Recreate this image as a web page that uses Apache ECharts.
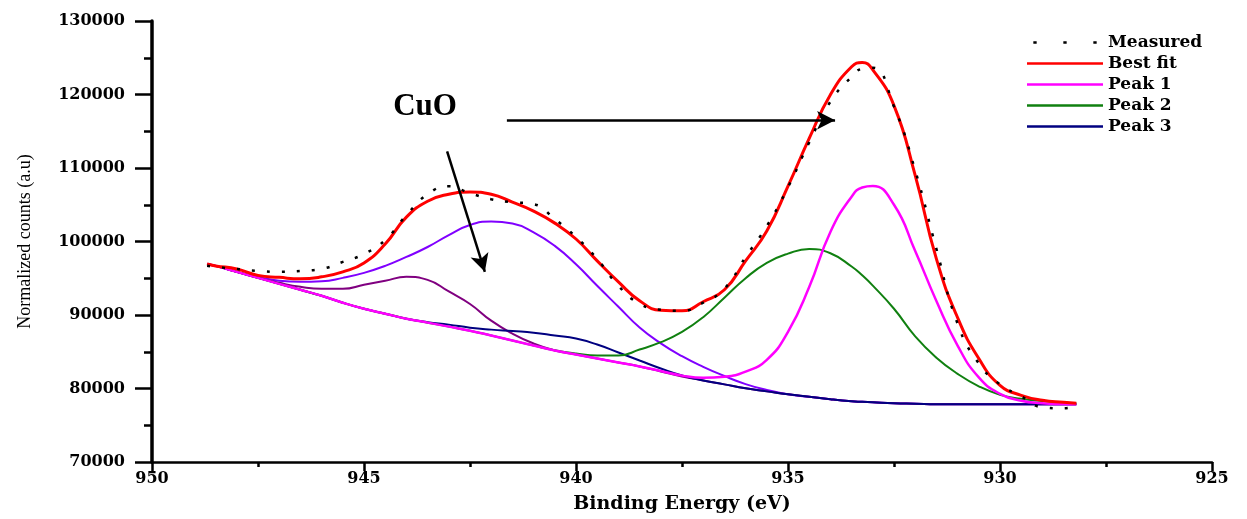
<!DOCTYPE html>
<html>
<head>
<meta charset="utf-8">
<script src="https://cdn.jsdelivr.net/npm/echarts@6/dist/echarts.min.js"></script>
<style>
  html, body { margin: 0; padding: 0; background: #ffffff; }
  #chart { width: 1247px; height: 519px; }
</style>
</head>
<body>
<div id="chart"></div>
<script>
// Binding energies (eV) at which the curves were read
const energy = [948.7, 948.5, 948, 947.5, 947, 946.5, 946, 945.5, 945, 944.5, 944, 943.5, 943, 942.5, 942, 941.5, 941, 940.5, 940, 939.5, 939, 938.5, 938, 937.5, 937, 936.5, 936, 935.5, 935, 934.5, 934, 933.5, 933.25, 933, 932.5, 932, 931.5, 931, 930.5, 930, 929.5, 929, 928.5, 928.2];

const measured = [96700, 96540, 96270, 96000, 95870, 96000, 96270, 97220, 98300, 100200, 103590, 106430, 107510, 106570, 105750, 105350, 105080, 103050, 100610, 97630, 93970, 91530, 90720, 90580, 91670, 93570, 97900, 102100, 107380, 113480, 119030, 122410, 123500, 123630, 118350, 109680, 99000, 88820, 83410, 80560, 78940, 77450, 77310, 77580];

const bestFit = [96950, 96680, 96270, 95390, 95120, 94920, 95190, 95870, 97090, 99660, 103320, 105480, 106430, 106740, 106430, 105350, 104130, 102500, 100340, 97360, 94510, 91940, 90650, 90580, 91800, 93430, 97360, 101420, 107520, 114020, 119980, 123770, 124350, 123360, 118490, 109000, 97630, 89640, 84080, 80430, 79070, 78390, 78120, 77990];

const peak1 = [96950, 96680, 95870, 95050, 94240, 93430, 92620, 91670, 90850, 90180, 89500, 88960, 88420, 87870, 87200, 86520, 85840, 85170, 84620, 84080, 83540, 83000, 82370, 81750, 81450, 81600, 82300, 83900, 87700, 93800, 101300, 106100, 107350, 107550, 105000, 98710, 91900, 85840, 81510, 79280, 78330, 77990, 77880, 77850];

const peak2 = [96950, 96680, 95870, 95050, 94240, 93430, 92620, 91670, 90850, 90180, 89500, 88960, 88420, 87870, 87200, 86520, 85840, 85200, 84760, 84490, 84490, 85300, 86300, 87700, 89700, 92350, 95000, 97100, 98350, 98980, 98400, 96600, 95400, 94000, 90850, 87100, 84200, 82000, 80300, 79150, 78600, 78300, 78080, 77990];

const peak3 = [96950, 96680, 95870, 95050, 94240, 93430, 92620, 91670, 90850, 90180, 89500, 89030, 88690, 88280, 88010, 87810, 87600, 87200, 86790, 85980, 84900, 83810, 82730, 81780, 81100, 80560, 80020, 79610, 79210, 78870, 78530, 78260, 78190, 78120, 77990, 77920, 77850, 77850, 77850, 77850, 77850, 77850, 77850, 77850];

// Two further fitted components drawn in the figure (not listed in its legend)
const peakViolet = [96950, 96680, 95870, 95190, 94650, 94510, 94580, 95050, 95730, 96680, 97900, 99250, 100880, 102250, 102710, 102450, 101250, 99400, 96900, 93970, 91130, 88300, 86150, 84400, 82950, 81700, 80600, 79800, 79210, 78870, 78530, 78260, 78190, 78120, 77990, 77920, 77850, 77850, 77850, 77850, 77850, 77850, 77850, 77850];

const peakPurple = [96950, 96680, 95870, 95050, 94380, 93840, 93570, 93570, 94110, 94650, 95190, 94780, 93200, 91500, 89230, 87470, 86120, 85170, 84620, 84080, 83540, 83000, 82320, 81640, 81100, 80560, 80020, 79610, 79210, 78870, 78530, 78260, 78190, 78120, 77990, 77920, 77850, 77850, 77850, 77850, 77850, 77850, 77850, 77850];

// Annotation anchors (data coordinates)
const cuoLabel = [943.56, 118350];
const arrowH = [[941.63, 116500], [933.89, 116500]];
const arrowD = [[943.04, 112260], [942.15, 95870]];

const legendNames = ['Measured', 'Best fit', 'Peak 1', 'Peak 2', 'Peak 3'];

const pair = arr => energy.map((e, i) => [e, arr[i]]);

const serif = 'DejaVu Serif';

function lineSeries(name, arr, color, width, extra) {
  return Object.assign({
    name: name,
    type: 'line',
    data: pair(arr),
    symbol: 'none',
    showSymbol: false,
    smooth: 0.5,
    lineStyle: { color: color, width: width },
    itemStyle: { color: color },
    silent: true
  }, extra || {});
}

const chart = echarts.init(document.getElementById('chart'), null, { renderer: 'canvas' });

const option = {
  animation: false,
  backgroundColor: '#ffffff',
  grid: { left: 152, right: 35, top: 21, bottom: 55, containLabel: false },
  legend: {
    data: legendNames.map(n => n === 'Measured'
      ? { name: n, icon: 'path://M0,0h4v3h-4z M36,0h4v3h-4z M72,0h4v3h-4z' }
      : { name: n, icon: 'rect' }),
    orient: 'vertical',
    left: 1027,
    top: 34,
    padding: 0,
    itemWidth: 76,
    itemHeight: 2.5,
    itemGap: 4,
    selectedMode: false,
    textStyle: { fontFamily: serif, fontWeight: 'bold', fontSize: 17, color: '#000', lineHeight: 17 }
  },
  xAxis: {
    type: 'value',
    inverse: true,
    min: 925,
    max: 950,
    interval: 5,
    name: 'Binding Energy (eV)',
    nameLocation: 'middle',
    nameGap: 33,
    nameTextStyle: { fontFamily: serif, fontWeight: 'bold', fontSize: 19, color: '#000' },
    axisLine: { onZero: false, lineStyle: { color: '#000', width: 2.5 } },
    axisTick: { show: true, length: 9, lineStyle: { color: '#000', width: 2.5 } },
    minorTick: { show: true, splitNumber: 2, length: 5, lineStyle: { color: '#000', width: 2.5 } },
    axisLabel: { margin: 9, fontFamily: serif, fontWeight: 'bold', fontSize: 16, color: '#000' },
    splitLine: { show: false },
    minorSplitLine: { show: false }
  },
  yAxis: {
    type: 'value',
    min: 70000,
    max: 130000,
    interval: 10000,
    name: 'Normalized counts (a.u)',
    nameLocation: 'middle',
    nameRotate: 90,
    nameGap: 118,
    nameTextStyle: { fontFamily: 'Liberation Serif', fontSize: 18, color: '#000' },
    axisLine: { onZero: false, lineStyle: { color: '#000', width: 3.5 } },
    axisTick: { show: true, length: 17, lineStyle: { color: '#000', width: 2.5 } },
    minorTick: { show: true, splitNumber: 2, length: 8, lineStyle: { color: '#000', width: 2.5 } },
    axisLabel: { margin: 27, fontFamily: serif, fontWeight: 'bold', fontSize: 16, color: '#000', formatter: v => String(v) },
    splitLine: { show: false },
    minorSplitLine: { show: false }
  },
  series: [
    lineSeries('Component A', peakViolet, '#8000ff', 2),
    lineSeries('Component B', peakPurple, '#800080', 2),
    lineSeries('Peak 3', peak3, '#000080', 2),
    lineSeries('Peak 2', peak2, '#108010', 2),
    lineSeries('Peak 1', peak1, '#ff00ff', 2.5),
    lineSeries('Best fit', bestFit, '#ff0000', 3),
    lineSeries('Measured', measured, '#000000', 2.5, {
      lineStyle: { color: '#000', width: 2.5, type: [3, 12] }
    }),
    {
      name: 'annotations',
      type: 'line',
      data: [],
      silent: true,
      markLine: {
        silent: true,
        symbol: ['none', 'arrow'],
        symbolSize: [14, 18],
        label: { show: false },
        lineStyle: { color: '#000', width: 2.5, type: 'solid' },
        data: [
          [{ coord: arrowH[0] }, { coord: arrowH[1] }],
          [{ coord: arrowD[0] }, { coord: arrowD[1] }]
        ]
      },
      markPoint: {
        silent: true,
        symbol: 'circle',
        symbolSize: 1,
        itemStyle: { color: 'rgba(0,0,0,0)' },
        label: {
          show: true,
          position: 'inside',
          formatter: 'CuO',
          fontFamily: 'Liberation Serif',
          fontWeight: 'bold',
          fontSize: 31,
          color: '#000'
        },
        data: [{ coord: cuoLabel }]
      }
    }
  ]
};

chart.setOption(option);
</script>
</body>
</html>
